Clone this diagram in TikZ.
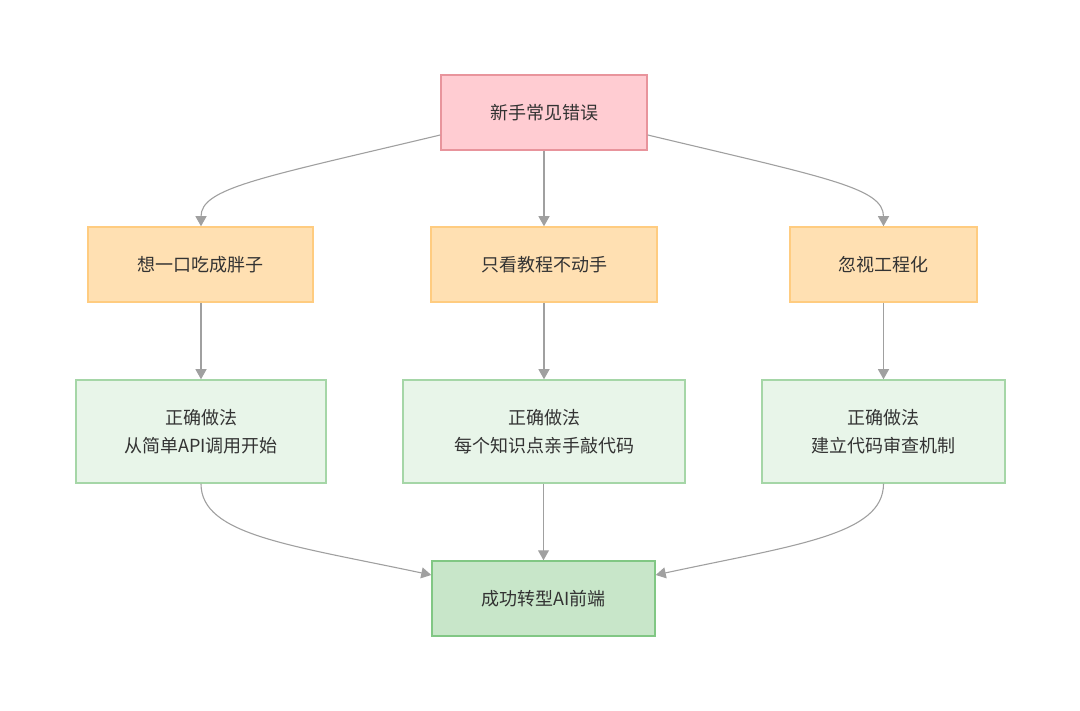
\documentclass[tikz,border=0pt]{standalone}
\usepackage{fontspec}
\newfontfamily\cjk{Noto Sans CJK SC}
\usetikzlibrary{arrows.meta}
\definecolor{txt}{HTML}{333333}
\definecolor{pinkfill}{HTML}{FFCCD2}
\definecolor{pinkdraw}{HTML}{E8949C}
\definecolor{orfill}{HTML}{FFE0B2}
\definecolor{ordraw}{HTML}{FFCC80}
\definecolor{grfill}{HTML}{E8F5E9}
\definecolor{grdraw}{HTML}{A5D6A7}
\definecolor{gr2fill}{HTML}{C8E6C9}
\definecolor{gr2draw}{HTML}{81C784}
\definecolor{edge}{HTML}{A0A0A0}
\tikzset{
  box/.style={draw, line width=1.5pt, inner sep=0pt, align=center, text=txt,
    font=\cjk\fontsize{18}{28}\selectfont},
  pinkbox/.style={box, fill=pinkfill, draw=pinkdraw},
  orbox/.style={box, fill=orfill, draw=ordraw},
  grbox/.style={box, fill=grfill, draw=grdraw},
  finalbox/.style={box, fill=gr2fill, draw=gr2draw},
  conn/.style={draw=edge, line width=1.1pt, -{Triangle[length=10pt,width=11pt,fill=edge]}}
}
\begin{document}
\begin{tikzpicture}[x=1pt,y=-1pt]
\useasboundingbox (0,0) rectangle (1080,711);
\node[pinkbox, minimum width=206pt, minimum height=75pt] (top) at (544,112.5) {新手常见错误};
\node[orbox, minimum width=225pt, minimum height=75pt] (m1) at (200.5,264.5) {想一口吃成胖子};
\node[orbox, minimum width=226pt, minimum height=75pt] (m2) at (544,264.5) {只看教程不动手};
\node[orbox, minimum width=187pt, minimum height=75pt] (m3) at (883.5,264.5) {忽视工程化};
\node[grbox, minimum width=250pt, minimum height=103pt] (g1) at (201,431.5) {正确做法\\从简单API调用开始};
\node[grbox, minimum width=282pt, minimum height=103pt] (g2) at (544,431.5) {正确做法\\每个知识点亲手敲代码};
\node[grbox, minimum width=243pt, minimum height=103pt] (g3) at (883.5,431.5) {正确做法\\建立代码审查机制};
\node[finalbox, minimum width=223pt, minimum height=75pt] (fin) at (543.5,598.5) {成功转型AI前端};
\draw[conn] (top.west |- 0,135) .. controls (260,178) and (201,188) .. (m1.north -| 201,0);
\draw[conn] (top.south) -- (m2.north);
\draw[conn] (top.east |- 0,135) .. controls (828,178) and (883.5,188) .. (m3.north);
\draw[conn] (m1.south -| 201,0) -- (g1.north);
\draw[conn] (m2.south) -- (g2.north);
\draw[conn] (m3.south) -- (g3.north);
\draw[conn] (g1.south) .. controls (201,535) and (290,545) .. (fin.west |- 0,575);
\draw[conn] (g2.south -| fin.north) -- (fin.north);
\draw[conn] (g3.south) .. controls (883.5,535) and (795,545) .. (fin.east |- 0,575);
\end{tikzpicture}
\end{document}
